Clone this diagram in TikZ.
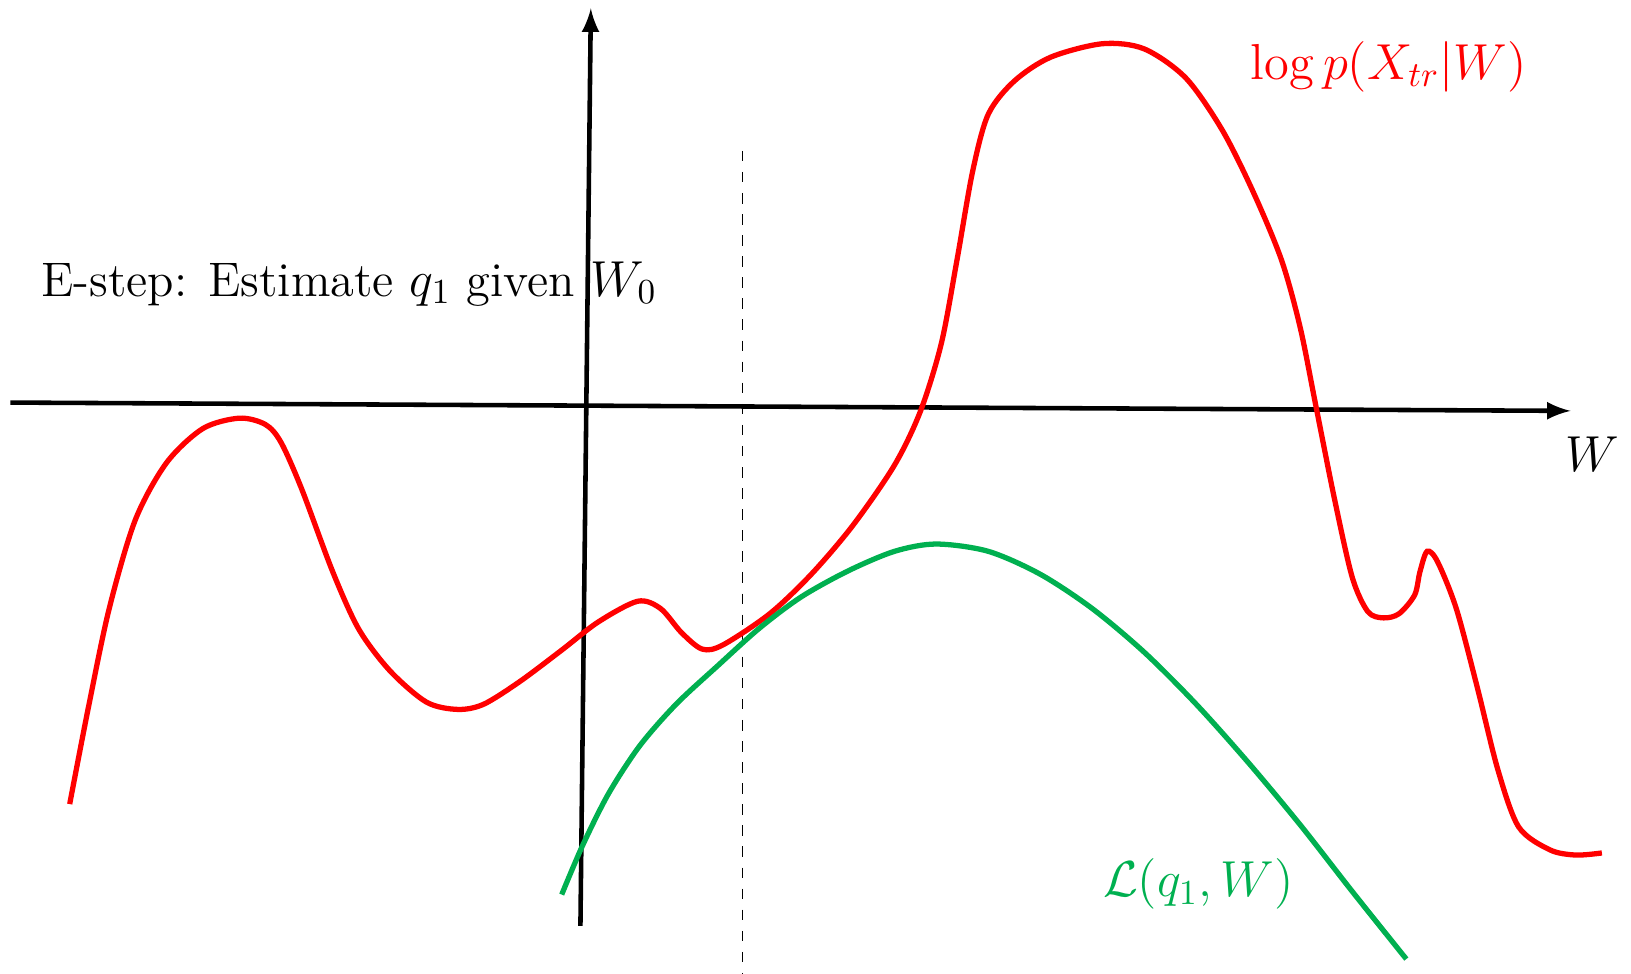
\documentclass[tikz,border=0pt]{standalone}
\definecolor{lbgreen}{RGB}{0,176,80}
\begin{document}
\begin{tikzpicture}[x=0.010402cm, y=-0.010402cm, >=latex, font=\fontsize{13.8}{16}\selectfont]
            \useasboundingbox (0,0) rectangle (1568,936);
            % axes
            \draw[->, line width=1.3pt] (10,387) -- (1510,395);
            \draw[->, line width=1.3pt] (558,890) -- (568,8);
            \node (wlab) at (1531,437) {$W$};
            % dashed line at W_0
            \draw[dashed, line width=0.3pt] (714,145) -- (714,936);
            % log-likelihood
            \draw[line width=1.5pt, red, tension=0.5] plot[smooth] coordinates {(67,773) (85,680) (105,585) (130,500) (160,445) (195,412) (230,402) (255,408) (270,425) (290,470) (320,550) (345,605) (375,645) (410,675) (440,682) (465,677) (500,655) (540,625) (575,598) (613,578) (635,585) (655,608) (675,624) (695,620) (740,590) (780,552) (820,505) (860,447) (885,395) (905,330) (920,250) (935,165) (950,110) (975,78) (1010,55) (1060,42) (1100,47) (1140,75) (1175,125) (1205,185) (1232,250) (1250,315) (1265,390) (1283,480) (1300,555) (1315,588) (1330,594) (1345,590) (1360,572) (1365,550) (1372,530) (1382,540) (1400,585) (1420,660) (1440,740) (1460,795) (1490,817) (1515,822) (1540,820)};
            % lower bound
            \draw[line width=1.5pt, lbgreen, tension=0.5] plot[smooth] coordinates {(540,860) (560,813) (585,763) (615,717) (650,677) (690,640) (730,604) (770,574) (815,549) (860,530) (900,523) (950,530) (1000,552) (1050,585) (1100,627) (1150,677) (1200,733) (1250,793) (1300,857) (1352,922)};
            \node[anchor=west] (estep) at (28,273) {E-step: Estimate $q_1$ given $W_0$};
            \node[red] (loglab) at (1335,64) {$\log p(X_{tr}|W)$};
            \node[lbgreen] (lblab) at (1152,850) {$\mathcal{L}(q_1,W)$};
        \end{tikzpicture}
\end{document}
